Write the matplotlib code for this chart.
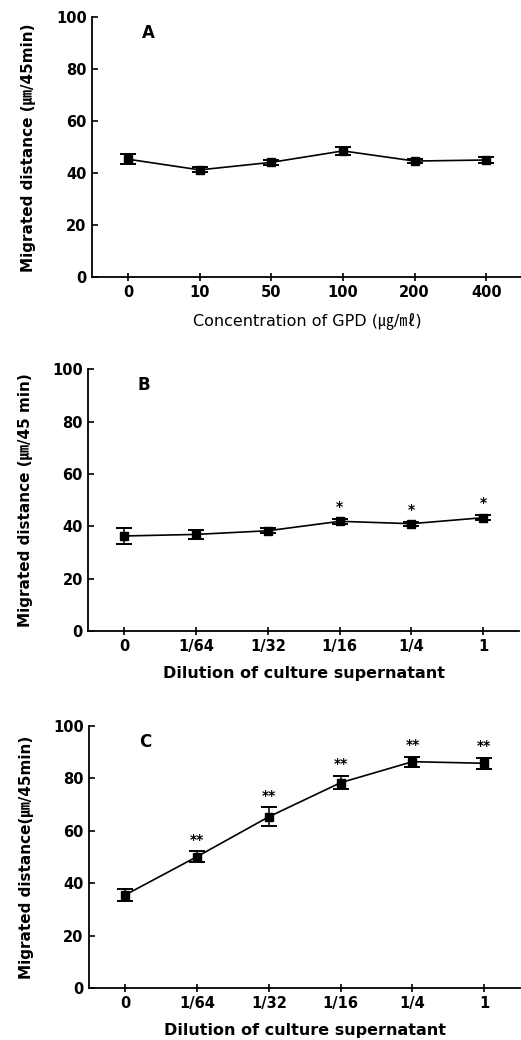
import matplotlib
matplotlib.use("Agg")
import matplotlib.pyplot as plt
import numpy as np

FONT = ["DejaVu Sans", "Noto Sans CJK KR"]
plt.rcParams["font.family"] = FONT
plt.rcParams["font.weight"] = "bold"

# panel A
conc_labels = ["0", "10", "50", "100", "200", "400"]
a_mean = [45.4, 41.3, 44.2, 48.6, 44.7, 45.1]
a_err = [2.0, 1.0, 1.0, 1.5, 0.8, 1.3]

# panel B
dil_labels = ["0", "1/64", "1/32", "1/16", "1/4", "1"]
b_mean = [36.3, 36.9, 38.3, 41.9, 41.0, 43.3]
b_err = [3.0, 1.8, 1.0, 1.0, 0.8, 1.0]
b_stars = ["", "", "", "*", "*", "*"]

# panel C
c_mean = [35.6, 50.2, 65.4, 78.4, 86.4, 85.8]
c_err = [2.2, 2.0, 3.6, 2.5, 1.9, 2.1]
c_stars = ["", "**", "**", "**", "**", "**"]

fig = plt.figure(figsize=(5.21, 10.40), dpi=100)

panels = [
    ([0.177, 0.7334, 0.825, 0.25], "A", conc_labels, a_mean, a_err, None,
     "Migrated distance (\u339b/45min)", "Concentration of GPD (\u338d/\u3396)", "normal"),
    ([0.1695, 0.3933, 0.827, 0.2516], "B", dil_labels, b_mean, b_err, b_stars,
     "Migrated distance (\u339b/45 min)", "Dilution of culture supernatant", "bold"),
    ([0.1714, 0.0497, 0.827, 0.2522], "C", dil_labels, c_mean, c_err, c_stars,
     "Migrated distance(\u339b/45min)", "Dilution of culture supernatant", "bold"),
]

for rect, letter, labels, mean, err, stars, ylab, xlab, xw in panels:
    ax = fig.add_axes(rect)
    x = np.arange(len(labels))
    ax.errorbar(x, mean, yerr=err, color="black", marker="s", markersize=6,
                linewidth=1.2, elinewidth=1.1, capsize=6, capthick=1.4)
    if stars:
        for xi, m, e, s in zip(x, mean, err, stars):
            if s:
                ax.text(xi, m + e + 1.8, s, ha="center", va="bottom",
                        fontsize=10, fontweight="bold")
    ax.set_xlim(-0.5, 5.5)
    ax.set_ylim(0, 100)
    ax.set_xticks(x)
    ax.set_xticklabels(labels, fontsize=10.5, fontweight="bold")
    ax.set_yticks([0, 20, 40, 60, 80, 100])
    ax.set_yticklabels(["0", "20", "40", "60", "80", "100"], fontsize=10.5,
                       fontweight="bold")
    ax.spines["top"].set_visible(False)
    ax.spines["right"].set_visible(False)
    ax.spines["left"].set_linewidth(1.3)
    ax.spines["bottom"].set_linewidth(1.3)
    ax.tick_params(axis="y", direction="in", length=4, width=1.2, pad=4)
    ax.tick_params(axis="x", direction="inout", length=6, width=1.2, pad=2.5)
    ax.set_ylabel(ylab, fontsize=11, fontweight="bold", family=FONT, labelpad=14)
    ax.set_xlabel(xlab, fontsize=11.5, fontweight=xw, family=FONT, labelpad=9)
    ax.text(0.19, 94, letter, fontsize=12, fontweight="bold", va="center")

fig.savefig("out.png", dpi=100)
